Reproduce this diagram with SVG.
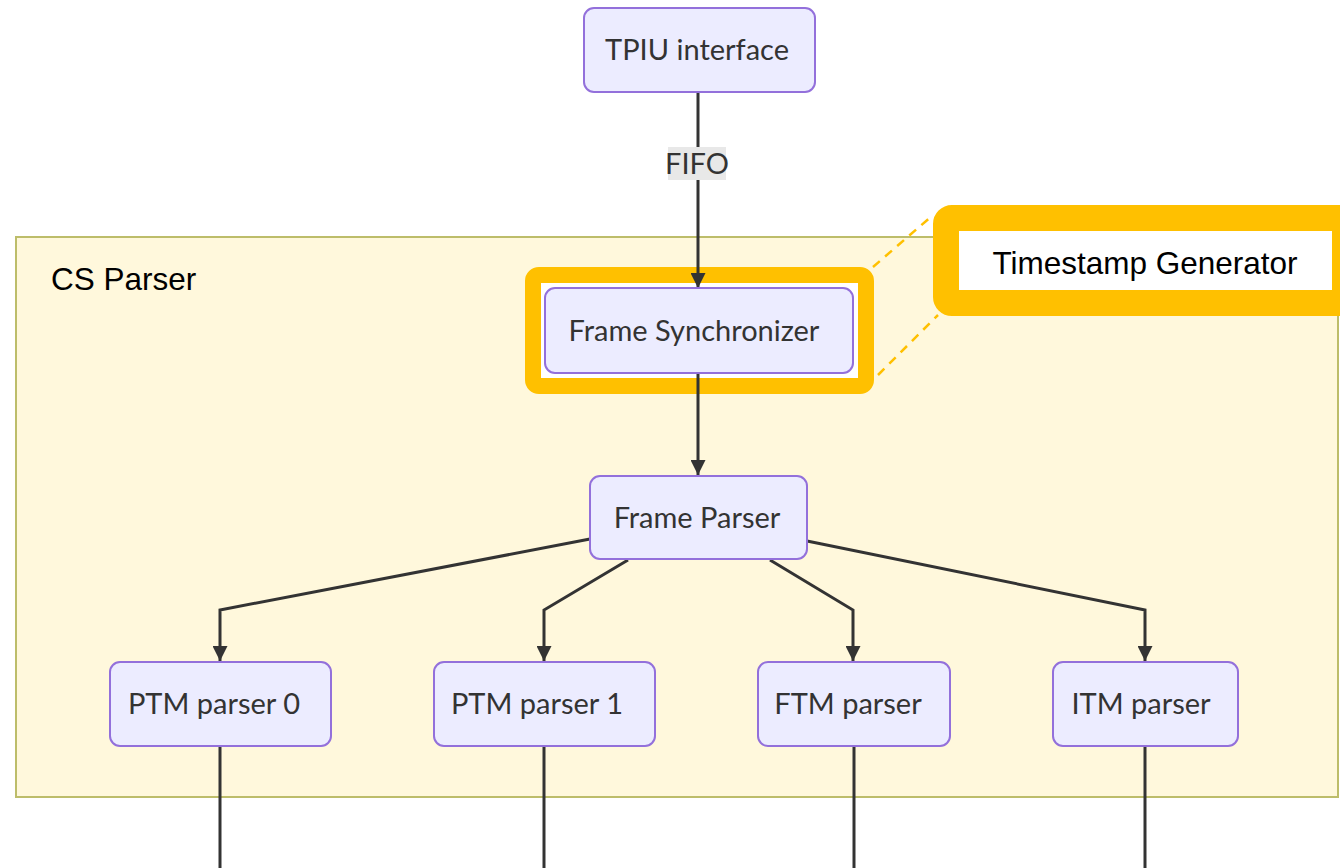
<svg xmlns="http://www.w3.org/2000/svg" width="1340" height="868" viewBox="0 0 1340 868">
<style>
.node rect{fill:#ECECFF;stroke:#9370DB;stroke-width:2}
.node text{font-family:Lato,"Open Sans",sans-serif;font-size:29px;fill:#333;text-anchor:middle;dominant-baseline:central}
.edge{fill:none;stroke:#333;stroke-width:3}
.hl{fill:#fff;stroke:#FFC000}
.dash{stroke:#FFC000;stroke-width:2.5;stroke-dasharray:9 7;fill:none}
</style>
<defs>
<marker id="arr" viewBox="0 0 10 10" refX="10" refY="5" markerWidth="5" markerHeight="5" markerUnits="strokeWidth" orient="auto">
<path d="M0,0 L10,5 L0,10 z" fill="#333"/>
</marker>
</defs>
<rect width="1340" height="868" fill="#fff"/>
<g id="cluster-cs-parser">
<rect x="16" y="237" width="1322" height="560" fill="#FFF8DC" stroke="#BDBD6A" stroke-width="2"/>
<text x="51" y="290" font-family="Liberation Sans, Arial, sans-serif" font-size="31.5" fill="#000">CS Parser</text>
</g>
<g id="highlight-frame-sync">
<rect class="hl" x="533" y="275" width="333" height="111" rx="6" stroke-width="16"/>
</g>
<g id="connectors">
<path class="edge" d="M698,92 V288" marker-end="url(#arr)"/>
<path class="edge" d="M698,373 V475" marker-end="url(#arr)"/>
<path class="edge" d="M590,539 L220,610 V661" marker-end="url(#arr)"/>
<path class="edge" d="M628,560 L544,610 V661" marker-end="url(#arr)"/>
<path class="edge" d="M770,560 L853,610 V661" marker-end="url(#arr)"/>
<path class="edge" d="M807,541 L1145,610 V661" marker-end="url(#arr)"/>
<path class="edge" d="M220,746 V868"/>
<path class="edge" d="M544,746 V868"/>
<path class="edge" d="M854,746 V868"/>
<path class="edge" d="M1145,746 V868"/>
</g>
<g id="edge-label-fifo">
<rect x="668" y="147" width="58" height="33" fill="#E8E8E8"/>
<text x="697" y="162" font-family="Lato,'Open Sans',sans-serif" font-size="29" fill="#333" text-anchor="middle" dominant-baseline="central">FIFO</text>
</g>
<g id="node-tpiu" class="node">
<rect x="584" y="8" width="231" height="84" rx="10"/>
<text x="697" y="48">TPIU interface</text>
</g>
<g id="node-frame-sync" class="node">
<rect x="545" y="288" width="308" height="85" rx="10"/>
<text x="694" y="329">Frame Synchronizer</text>
</g>
<g id="node-frame-parser" class="node">
<rect x="590" y="476" width="217" height="83" rx="10"/>
<text x="697" y="516">Frame Parser</text>
</g>
<g id="node-ptm0" class="node">
<rect x="110" y="662" width="221" height="84" rx="10"/>
<text x="214" y="702">PTM parser 0</text>
</g>
<g id="node-ptm1" class="node">
<rect x="434" y="662" width="221" height="84" rx="10"/>
<text x="537" y="702">PTM parser 1</text>
</g>
<g id="node-ftm" class="node">
<rect x="758" y="662" width="192" height="84" rx="10"/>
<text x="848" y="702">FTM parser</text>
</g>
<g id="node-itm" class="node">
<rect x="1053" y="662" width="185" height="84" rx="10"/>
<text x="1141" y="702">ITM parser</text>
</g>
<g id="callout-timestamp">
<path class="dash" d="M873,267 L933,215"/>
<path class="dash" d="M878,375 L938,315"/>
<rect class="hl" x="946" y="218" width="399" height="85" rx="6" stroke-width="26"/>
<text x="1145" y="263" font-family="Liberation Sans, Arial, sans-serif" font-size="31.5" fill="#000" text-anchor="middle" dominant-baseline="central">Timestamp Generator</text>
</g>
</svg>
